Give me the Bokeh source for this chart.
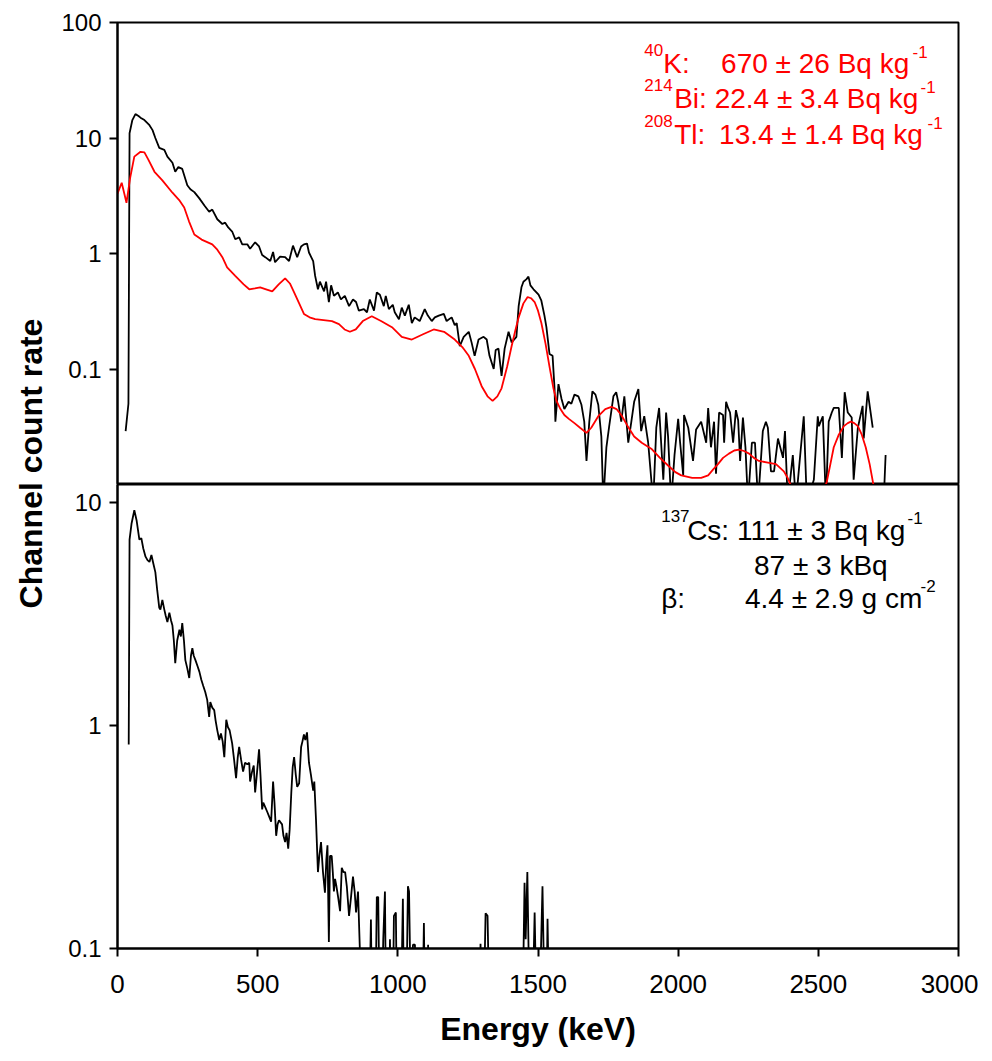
import math
from bokeh.plotting import figure
from bokeh.layouts import row, column
from bokeh.models import Range1d, FixedTicker, Label
from bokeh.embed import file_html
from bokeh.resources import INLINE

# ---------------- data ----------------
top_energy = [29, 39, 43, 53, 64, 75, 82, 96, 114, 125, 135, 149, 167, 178, 196, 206, 217, 231, 249, 260,
              274, 292, 310, 327, 338, 356, 374, 384, 395, 409, 420, 434, 445, 463, 473, 491, 505, 516, 527, 545,
              555, 562, 580, 598, 612, 626, 641, 655, 665, 676, 683, 698, 705, 715, 722, 737, 744, 754, 762, 772,
              786, 797, 811, 826, 840, 851, 861, 879, 890, 900, 915, 925, 936, 950, 957, 968, 982, 989, 1004, 1014,
              1025, 1039, 1050, 1060, 1078, 1096, 1107, 1121, 1132, 1146, 1164, 1174, 1192, 1203, 1210, 1221, 1235, 1253, 1263, 1274,
              1288, 1306, 1317, 1327, 1342, 1349, 1359, 1370, 1381, 1395, 1406, 1423, 1431, 1441, 1448, 1459, 1466, 1473, 1484, 1491,
              1502, 1512, 1523, 1530, 1541, 1552, 1559, 1562, 1573, 1584, 1594, 1609, 1619, 1630, 1644, 1655, 1665, 1673, 1683, 1694,
              1705, 1715, 1726, 1733, 1744, 1754, 1769, 1779, 1786, 1797, 1808, 1822, 1833, 1843, 1858, 1868, 1879, 1893, 1911, 1922,
              1932, 1947, 1957, 1964, 1975, 1987, 2000, 2007, 2018, 2021, 2036, 2053, 2064, 2082, 2100, 2107, 2117, 2128, 2135, 2146,
              2160, 2164, 2171, 2178, 2185, 2196, 2206, 2214, 2221, 2231, 2240, 2249, 2263, 2274, 2285, 2302, 2313, 2320, 2331, 2342,
              2356, 2374, 2381, 2391, 2409, 2420, 2448, 2459, 2484, 2498, 2502, 2516, 2527, 2537, 2548, 2555, 2573, 2584, 2594, 2605,
              2619, 2626, 2641, 2658, 2662, 2676, 2694, float("nan"), 2733, 2740]
top_counts = [0.029, 0.05, 11.0, 14.3, 16.1, 15.5, 15.0, 14.3, 12.9, 11.7, 10.0, 8.2, 7.9, 6.9, 6.1, 5.1, 5.6, 5.4, 3.9, 3.6,
              3.4, 3.0, 2.6, 2.3, 2.4, 1.98, 1.8, 1.85, 1.68, 1.55, 1.33, 1.38, 1.2, 1.2, 1.1, 1.25, 1.15, 0.97, 0.93, 0.86,
              1.03, 0.84, 0.94, 0.93, 0.86, 1.17, 0.93, 1.15, 1.2, 1.22, 1.02, 0.86, 0.64, 0.49, 0.57, 0.47, 0.57, 0.38, 0.53, 0.43,
              0.46, 0.40, 0.43, 0.35, 0.40, 0.38, 0.32, 0.33, 0.31, 0.40, 0.32, 0.46, 0.44, 0.35, 0.43, 0.33, 0.36, 0.31, 0.27, 0.34,
              0.29, 0.36, 0.25, 0.28, 0.26, 0.33, 0.29, 0.26, 0.28, 0.29, 0.30, 0.26, 0.28, 0.24, 0.25, 0.158, 0.19, 0.21, 0.17, 0.13,
              0.18, 0.19, 0.18, 0.13, 0.10, 0.146, 0.15, 0.087, 0.15, 0.21, 0.17, 0.19, 0.35, 0.51, 0.57, 0.60, 0.63, 0.53, 0.49, 0.47,
              0.44, 0.39, 0.29, 0.23, 0.135, 0.13, 0.068, 0.035, 0.074, 0.055, 0.045, 0.052, 0.050, 0.060, 0.058, 0.049, 0.035, 0.016, 0.035, 0.064,
              0.060, 0.049, 0.026, 0.007, 0.021, 0.032, 0.058, 0.063, 0.052, 0.035, 0.058, 0.023, 0.035, 0.052, 0.067, 0.029, 0.039, 0.023, 0.007, 0.031,
              0.046, 0.011, 0.042, 0.026, 0.007, 0.018, 0.037, 0.023, 0.012, 0.040, 0.031, 0.016, 0.030, 0.035, 0.023, 0.046, 0.021, 0.035, 0.0124, 0.042,
              0.040, 0.023, 0.052, 0.046, 0.042, 0.023, 0.044, 0.036, 0.016, 0.038, 0.021, 0.007, 0.023, 0.023, 0.007, 0.029, 0.035, 0.031, 0.013, 0.013,
              0.025, 0.017, 0.029, 0.007, 0.018, 0.007, 0.039, 0.007, 0.011, 0.039, 0.032, 0.039, 0.007, 0.035, 0.042, 0.046, 0.046, 0.017, 0.063, 0.042,
              0.038, 0.011, 0.031, 0.048, 0.025, 0.064, 0.031, float("nan"), 0.007, 0.018]

fit_energy = [0, 15, 32, 45, 60, 82, 96, 110, 132, 160, 196, 220, 238, 255, 274, 300, 338, 356, 374, 391,
              420, 450, 470, 490, 509, 530, 552, 575, 598, 615, 630, 648, 665, 685, 705, 735, 765, 790, 810, 829,
              850, 875, 907, 940, 979, 1014, 1050, 1090, 1128, 1165, 1203, 1230, 1253, 1275, 1299, 1320, 1338, 1355, 1370, 1390,
              1406, 1420, 1431, 1448, 1463, 1475, 1488, 1500, 1512, 1527, 1541, 1555, 1566, 1580, 1594, 1610, 1630, 1650, 1673, 1690,
              1715, 1740, 1762, 1780, 1797, 1820, 1843, 1870, 1904, 1935, 1964, 1990, 2011, 2050, 2082, 2107, 2125, 2142, 2160, 2181,
              2200, 2217, 2235, 2253, 2270, 2288, 2320, 2349, 2377, 2390, 2402, 2420, 2460, 2500, 2520, 2530, 2543, 2555, 2573, 2591,
              2605, 2616, 2628, 2641, 2655, 2669, 2683, 2697, 2705]
fit_counts = [3.3, 4.1, 2.75, 4.5, 6.9, 7.6, 7.5, 6.5, 5.1, 4.3, 3.36, 2.9, 2.5, 1.9, 1.46, 1.32, 1.2, 1.08, 0.93, 0.757,
              0.64, 0.54, 0.49, 0.50, 0.51, 0.49, 0.47, 0.54, 0.61, 0.55, 0.46, 0.37, 0.30, 0.28, 0.27, 0.265, 0.26, 0.245, 0.22, 0.21,
              0.22, 0.26, 0.286, 0.26, 0.23, 0.19, 0.18, 0.20, 0.22, 0.21, 0.18, 0.155, 0.13, 0.10, 0.071, 0.058, 0.053, 0.058, 0.068, 0.105,
              0.158, 0.22, 0.28, 0.37, 0.42, 0.41, 0.38, 0.32, 0.25, 0.165, 0.105, 0.068, 0.053, 0.045, 0.040, 0.037, 0.034, 0.031, 0.028, 0.031,
              0.039, 0.045, 0.047, 0.045, 0.040, 0.032, 0.026, 0.023, 0.0204, 0.017, 0.0146, 0.0128, 0.012, 0.0114, 0.0114, 0.012, 0.0135, 0.015, 0.017, 0.0185,
              0.0197, 0.020, 0.0195, 0.0185, 0.017, 0.016, 0.0155, 0.015, 0.013, 0.0115, 0.0098, 0.008, 0.006, 0.0065, 0.009, 0.0105, 0.015, 0.021, 0.027, 0.032,
              0.034, 0.035, 0.034, 0.032, 0.027, 0.021, 0.015, 0.0098, 0.008]

bot_energy = [40, 43, 50, 60, 68, 78, 85, 92, 100, 107, 114, 121, 128, 135, 142, 149, 153, 160, 167, 172,
              178, 185, 191, 196, 201, 206, 213, 221, 226, 231, 237, 242, 249, 256, 262, 267, 272, 278, 285, 292,
              299, 306, 313, 320, 327, 331, 338, 345, 350, 356, 363, 369, 375, 381, 388, 394, 400, 409, 416, 423,
              429, 434, 441, 448, 455, 463, 470, 473, 480, 486, 491, 498, 505, 510, 516, 520, 527, 534, 541, 548,
              555, 560, 566, 571, 576, 580, 587, 592, 598, 603, 609, 614, 620, 625, 630, 636, 641, 648, 655, 660,
              665, 670, 676, 683, 690, 698, 702, 708, 715, 720, 726, 733, 740, 745, 749, 754, 758, 764, 768, 772,
              776, 781, 787, 794, 800, 806, 812, 818, 826, 833, 840, 846, 851, 858, 865, 870, 898, 904, 908, 920,
              925, 930, 935, 943, 948, 954, 958, 968, 972, 975, 982, 986, 993, 997, 1011, 1018, 1022, 1030, 1036, 1040,
              1047, 1054, 1061, 1065, 1088, 1093, 1097, 1105, 1108, 1112, 1290, 1295, 1300, 1306, 1313, 1320, 1327, 1445, 1452, 1456,
              1462, 1470, 1480, 1488, 1495, 1505, 1516, 1524, 1530, 1534, 1540]
bot_counts = [0.82, 6.8, 8.0, 9.2, 8.3, 6.8, 6.9, 6.2, 5.7, 5.5, 5.4, 5.8, 5.3, 4.86, 4.0, 3.36, 3.3, 3.65, 3.3, 3.1,
              2.9, 3.2, 2.95, 2.8, 2.4, 1.9, 2.4, 2.68, 2.5, 2.87, 2.4, 1.96, 1.8, 1.63, 2.05, 2.22, 2.05, 1.96, 1.85, 1.74,
              1.6, 1.5, 1.41, 1.3, 1.09, 1.27, 1.2, 1.17, 1.05, 0.95, 0.86, 0.92, 0.85, 0.72, 1.06, 0.98, 0.95, 0.83, 0.70, 0.58,
              0.72, 0.80, 0.70, 0.62, 0.68, 0.67, 0.68, 0.56, 0.62, 0.66, 0.50, 0.62, 0.78, 0.60, 0.42, 0.45, 0.43, 0.41, 0.39, 0.37,
              0.56, 0.45, 0.32, 0.36, 0.375, 0.37, 0.36, 0.32, 0.30, 0.33, 0.28, 0.34, 0.50, 0.65, 0.72, 0.60, 0.53, 0.55, 0.80, 0.85,
              0.91, 0.86, 0.93, 0.68, 0.60, 0.51, 0.56, 0.38, 0.22, 0.26, 0.30, 0.22, 0.178, 0.25, 0.29, 0.107, 0.26, 0.26, 0.22, 0.18,
              0.205, 0.19, 0.17, 0.147, 0.23, 0.22, 0.22, 0.19, 0.14, 0.17, 0.21, 0.18, 0.145, 0.18, 0.095, 0.05, 0.05, 0.135, 0.05, 0.05,
              0.17, 0.17, 0.05, 0.05, 0.11, 0.18, 0.05, 0.05, 0.11, 0.05, 0.05, 0.14, 0.145, 0.05, 0.05, 0.167, 0.05, 0.05, 0.19, 0.18,
              0.05, 0.104, 0.104, 0.05, 0.05, 0.13, 0.05, 0.05, 0.104, 0.05, 0.05, 0.105, 0.05, 0.05, 0.144, 0.14, 0.05, 0.05, 0.197, 0.11,
              0.22, 0.05, 0.05, 0.145, 0.05, 0.05, 0.19, 0.05, 0.05, 0.136, 0.05]

x_ticks = [0, 500, 1000, 1500, 2000, 2500, 3000]
top_y_ticks = [0.1, 1, 10, 100]
bot_y_ticks = [0.1, 1, 10]

FONT = "Liberation Sans"

# ---------------- layout helpers (page pixel -> data) ----------------
FR_L, FR_R = 115, 958
TOP_T, TOP_B = 22, 484
BOT_T, BOT_B = 484, 949
X0, X1 = 0, 3000
TY0, TY1 = 0.01, 100
BY0, BY1 = 0.1, 12
SIDE_W = 58
TOP_H = TOP_B
BOT_H = 565


def ex(px):
    return X0 + (px - FR_L) * (X1 - X0) / (FR_R - FR_L)


def ty(py):
    return 10 ** (math.log10(TY1) - (py - TOP_T) * math.log10(TY1 / TY0) / (TOP_B - TOP_T))


def by(py):
    return 10 ** (math.log10(BY1) - (py - BOT_T) * math.log10(BY1 / BY0) / (BOT_B - BOT_T))


xr = Range1d(X0, X1)
MAIN_W = 978 - SIDE_W


def style(p, ticks):
    p.xgrid.visible = False
    p.ygrid.visible = False
    p.outline_line_color = "black"
    p.outline_line_width = 2
    p.outline_line_alpha = 1
    p.yaxis.ticker = FixedTicker(ticks=ticks)
    p.yaxis.major_label_overrides = {t: ("%g" % t) for t in ticks}
    for ax in p.axis:
        ax.axis_line_width = 2
        ax.axis_line_color = "black"
        ax.major_tick_line_width = 2
        ax.major_tick_line_color = "black"
        ax.major_tick_out = 8
        ax.major_tick_in = 0
        ax.minor_tick_line_color = None
        ax.major_label_text_font = FONT
        ax.major_label_text_color = "black"
    p.yaxis.major_label_text_font_size = "24px"
    p.yaxis.major_label_standoff = 8


top = figure(width=MAIN_W, height=TOP_H, x_range=xr, y_range=Range1d(TY0, TY1), y_axis_type="log",
             x_axis_location=None, toolbar_location=None, output_backend="svg",
             min_border_left=FR_L - SIDE_W, min_border_right=978 - FR_R, min_border_top=TOP_T, min_border_bottom=0)
style(top, top_y_ticks)
top.line(top_energy, top_counts, line_color="black", line_width=1.8)
top.line(fit_energy, fit_counts, line_color="red", line_width=1.8)

bot = figure(width=MAIN_W, height=BOT_H, x_range=xr, y_range=Range1d(BY0, BY1), y_axis_type="log",
             toolbar_location=None, output_backend="svg",
             min_border_left=FR_L - SIDE_W, min_border_right=978 - FR_R, min_border_top=0,
             min_border_bottom=BOT_H - (BOT_B - BOT_T))
style(bot, bot_y_ticks)
bot.xaxis.ticker = FixedTicker(ticks=x_ticks)
bot.xaxis.major_label_text_font_size = "26px"
bot.xaxis.major_label_standoff = 18
bot.xaxis.axis_label = "Energy (keV)"
bot.xaxis.axis_label_text_font = FONT
bot.xaxis.axis_label_text_font_size = "32px"
bot.xaxis.axis_label_text_font_style = "bold"
bot.xaxis.axis_label_text_color = "black"
bot.xaxis.axis_label_standoff = 15
bot.line(bot_energy, bot_counts, line_color="black", line_width=1.8)


def lab(p, fy, px, py, text, size, color):
    p.add_layout(Label(x=ex(px), y=fy(py), text=text, text_font=FONT, text_font_size=size,
                       text_color=color, text_align="left", text_baseline="alphabetic"))


MAIN, SUP = "28px", "17px"
# top annotations (red)
lab(top, ty, 643, 49, "40", SUP, "red")
lab(top, ty, 662, 63, "K:", MAIN, "red")
lab(top, ty, 720, 63, "670 \u00b1 26 Bq kg", MAIN, "red")
lab(top, ty, 912, 51, "-1", SUP, "red")
lab(top, ty, 643, 84, "214", SUP, "red")
lab(top, ty, 673, 98, "Bi: 22.4 \u00b1 3.4 Bq kg", MAIN, "red")
lab(top, ty, 920, 86, "-1", SUP, "red")
lab(top, ty, 643, 120, "208", SUP, "red")
lab(top, ty, 673, 134, "Tl:", MAIN, "red")
lab(top, ty, 718, 134, "13.4 \u00b1 1.4 Bq kg", MAIN, "red")
lab(top, ty, 927, 122, "-1", SUP, "red")
# bottom annotations (black)
lab(bot, by, 660, 516, "137", SUP, "black")
lab(bot, by, 686, 530, "Cs: 111 \u00b1 3 Bq kg", MAIN, "black")
lab(bot, by, 907, 518, "-1", SUP, "black")
lab(bot, by, 753, 565, "87 \u00b1 3 kBq", MAIN, "black")
lab(bot, by, 660, 598, "\u03b2:", MAIN, "black")
lab(bot, by, 744, 598, "4.4 \u00b1 2.9 g cm", MAIN, "black")
lab(bot, by, 920, 586, "-2", SUP, "black")

# y-axis title spanning both panels
TOTAL_H = TOP_H + BOT_H
side = figure(width=SIDE_W, height=TOTAL_H, x_range=Range1d(0, SIDE_W), y_range=Range1d(0, TOTAL_H),
              x_axis_location=None, y_axis_location=None, toolbar_location=None,
              output_backend="svg", min_border=0)
side.xgrid.visible = False
side.ygrid.visible = False
side.outline_line_color = None
side.add_layout(Label(x=30, y=TOTAL_H - 463, text="Channel count rate", angle=math.pi / 2,
                      text_font=FONT, text_font_size="32px", text_font_style="bold",
                      text_color="black", text_align="center", text_baseline="middle"))

layout = row(side, column(top, bot))
open("out.html", "w").write(file_html(layout, INLINE))
